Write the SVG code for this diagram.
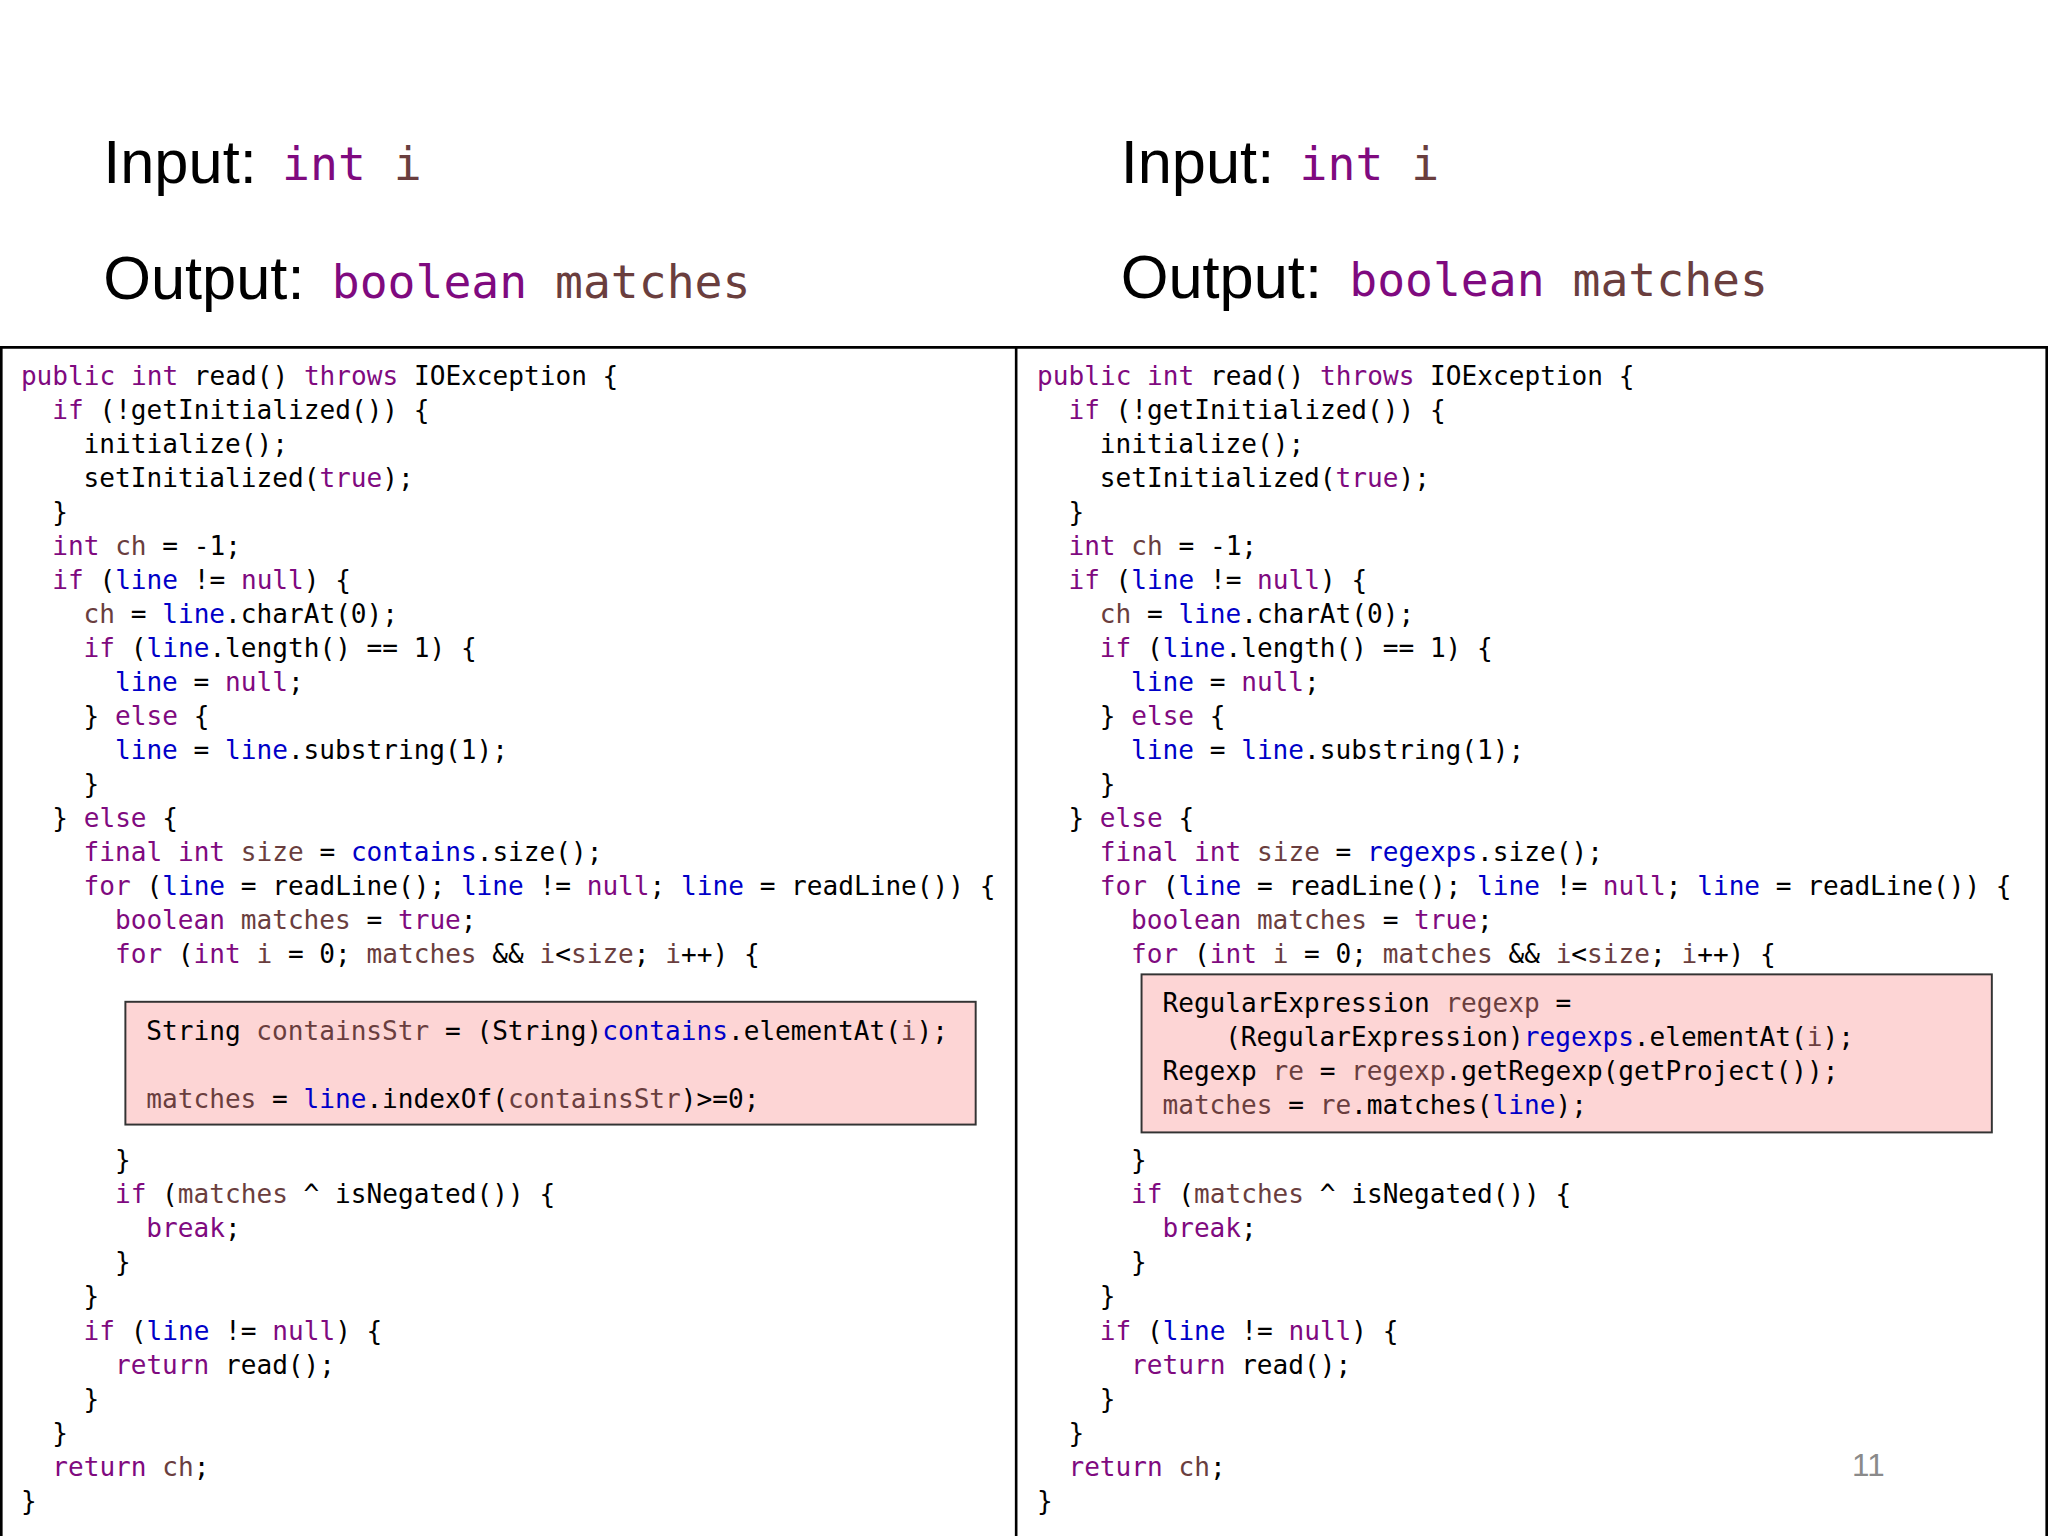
<svg xmlns="http://www.w3.org/2000/svg" width="2048" height="1536" viewBox="0 0 2048 1536" xml:space="preserve">
<style>
.t{font-family:"Liberation Sans",Arial,sans-serif;font-size:47px;fill:#000}
.tm{font-family:"DejaVu Sans Mono","Liberation Mono",monospace;font-size:35.5px}
.c{font-family:"DejaVu Sans Mono","Liberation Mono",monospace;font-size:20px;fill:#000}
.k{fill:#7f0a7f}.v{fill:#6a3e3e}.f{fill:#0000c8}
.box{fill:#fdd5d5;stroke:#333;stroke-width:1.5}
.frame{fill:none;stroke:#000;stroke-width:2}
</style>
<rect width="2048" height="1536" fill="#fff"/>
<g transform="scale(1.306122)">
<g id="titles">
<text class="t" x="79" y="140">Input:</text><text class="tm" x="216" y="138"><tspan class="k">int</tspan><tspan class="v"> i</tspan></text>
<text class="t" x="79" y="229">Output:</text><text class="tm" x="254" y="228"><tspan class="k">boolean</tspan><tspan class="v"> matches</tspan></text>
<text class="t" x="858" y="140">Input:</text><text class="tm" x="995" y="138"><tspan class="k">int</tspan><tspan class="v"> i</tspan></text>
<text class="t" x="858" y="228">Output:</text><text class="tm" x="1033" y="227"><tspan class="k">boolean</tspan><tspan class="v"> matches</tspan></text>
</g>
<g id="frames">
<line class="frame" x1="0" y1="266" x2="1568" y2="266"/>
<line class="frame" x1="1" y1="266" x2="1" y2="1176"/>
<line class="frame" x1="778" y1="266" x2="778" y2="1176"/>
<line class="frame" x1="1567" y1="266" x2="1567" y2="1176"/>
</g>
<g id="left-code">
<rect class="box" x="96" y="767" width="651" height="94"/>
<text class="c" x="16" y="295"><tspan class="k">public</tspan> <tspan class="k">int</tspan> read() <tspan class="k">throws</tspan> IOException {</text>
<text class="c" x="40" y="321"><tspan class="k">if</tspan> (!getInitialized()) {</text>
<text class="c" x="64" y="347">initialize();</text>
<text class="c" x="64" y="373">setInitialized(<tspan class="k">true</tspan>);</text>
<text class="c" x="40" y="399">}</text>
<text class="c" x="40" y="425"><tspan class="k">int</tspan> <tspan class="v">ch</tspan> = -1;</text>
<text class="c" x="40" y="451"><tspan class="k">if</tspan> (<tspan class="f">line</tspan> != <tspan class="k">null</tspan>) {</text>
<text class="c" x="64" y="477"><tspan class="v">ch</tspan> = <tspan class="f">line</tspan>.charAt(0);</text>
<text class="c" x="64" y="503"><tspan class="k">if</tspan> (<tspan class="f">line</tspan>.length() == 1) {</text>
<text class="c" x="88" y="529"><tspan class="f">line</tspan> = <tspan class="k">null</tspan>;</text>
<text class="c" x="64" y="555">} <tspan class="k">else</tspan> {</text>
<text class="c" x="88" y="581"><tspan class="f">line</tspan> = <tspan class="f">line</tspan>.substring(1);</text>
<text class="c" x="64" y="607">}</text>
<text class="c" x="40" y="633">} <tspan class="k">else</tspan> {</text>
<text class="c" x="64" y="659"><tspan class="k">final</tspan> <tspan class="k">int</tspan> <tspan class="v">size</tspan> = <tspan class="f">contains</tspan>.size();</text>
<text class="c" x="64" y="685"><tspan class="k">for</tspan> (<tspan class="f">line</tspan> = readLine(); <tspan class="f">line</tspan> != <tspan class="k">null</tspan>; <tspan class="f">line</tspan> = readLine()) {</text>
<text class="c" x="88" y="711"><tspan class="k">boolean</tspan> <tspan class="v">matches</tspan> = <tspan class="k">true</tspan>;</text>
<text class="c" x="88" y="737"><tspan class="k">for</tspan> (<tspan class="k">int</tspan> <tspan class="v">i</tspan> = 0; <tspan class="v">matches</tspan> &amp;&amp; <tspan class="v">i</tspan>&lt;<tspan class="v">size</tspan>; <tspan class="v">i</tspan>++) {</text>
<text class="c" x="112" y="796">String <tspan class="v">containsStr</tspan> = (String)<tspan class="f">contains</tspan>.elementAt(<tspan class="v">i</tspan>);</text>
<text class="c" x="112" y="848"><tspan class="v">matches</tspan> = <tspan class="f">line</tspan>.indexOf(<tspan class="v">containsStr</tspan>)&gt;=0;</text>
<text class="c" x="88" y="895">}</text>
<text class="c" x="88" y="921"><tspan class="k">if</tspan> (<tspan class="v">matches</tspan> ^ isNegated()) {</text>
<text class="c" x="112" y="947"><tspan class="k">break</tspan>;</text>
<text class="c" x="88" y="973">}</text>
<text class="c" x="64" y="999">}</text>
<text class="c" x="64" y="1026"><tspan class="k">if</tspan> (<tspan class="f">line</tspan> != <tspan class="k">null</tspan>) {</text>
<text class="c" x="88" y="1052"><tspan class="k">return</tspan> read();</text>
<text class="c" x="64" y="1078">}</text>
<text class="c" x="40" y="1104">}</text>
<text class="c" x="40" y="1130"><tspan class="k">return</tspan> <tspan class="v">ch</tspan>;</text>
<text class="c" x="16" y="1156">}</text>
</g>
<g id="right-code">
<rect class="box" x="874" y="746" width="651" height="121"/>
<text class="c" x="794" y="295"><tspan class="k">public</tspan> <tspan class="k">int</tspan> read() <tspan class="k">throws</tspan> IOException {</text>
<text class="c" x="818" y="321"><tspan class="k">if</tspan> (!getInitialized()) {</text>
<text class="c" x="842" y="347">initialize();</text>
<text class="c" x="842" y="373">setInitialized(<tspan class="k">true</tspan>);</text>
<text class="c" x="818" y="399">}</text>
<text class="c" x="818" y="425"><tspan class="k">int</tspan> <tspan class="v">ch</tspan> = -1;</text>
<text class="c" x="818" y="451"><tspan class="k">if</tspan> (<tspan class="f">line</tspan> != <tspan class="k">null</tspan>) {</text>
<text class="c" x="842" y="477"><tspan class="v">ch</tspan> = <tspan class="f">line</tspan>.charAt(0);</text>
<text class="c" x="842" y="503"><tspan class="k">if</tspan> (<tspan class="f">line</tspan>.length() == 1) {</text>
<text class="c" x="866" y="529"><tspan class="f">line</tspan> = <tspan class="k">null</tspan>;</text>
<text class="c" x="842" y="555">} <tspan class="k">else</tspan> {</text>
<text class="c" x="866" y="581"><tspan class="f">line</tspan> = <tspan class="f">line</tspan>.substring(1);</text>
<text class="c" x="842" y="607">}</text>
<text class="c" x="818" y="633">} <tspan class="k">else</tspan> {</text>
<text class="c" x="842" y="659"><tspan class="k">final</tspan> <tspan class="k">int</tspan> <tspan class="v">size</tspan> = <tspan class="f">regexps</tspan>.size();</text>
<text class="c" x="842" y="685"><tspan class="k">for</tspan> (<tspan class="f">line</tspan> = readLine(); <tspan class="f">line</tspan> != <tspan class="k">null</tspan>; <tspan class="f">line</tspan> = readLine()) {</text>
<text class="c" x="866" y="711"><tspan class="k">boolean</tspan> <tspan class="v">matches</tspan> = <tspan class="k">true</tspan>;</text>
<text class="c" x="866" y="737"><tspan class="k">for</tspan> (<tspan class="k">int</tspan> <tspan class="v">i</tspan> = 0; <tspan class="v">matches</tspan> &amp;&amp; <tspan class="v">i</tspan>&lt;<tspan class="v">size</tspan>; <tspan class="v">i</tspan>++) {</text>
<text class="c" x="890" y="775">RegularExpression <tspan class="v">regexp</tspan> =</text>
<text class="c" x="938" y="801">(RegularExpression)<tspan class="f">regexps</tspan>.elementAt(<tspan class="v">i</tspan>);</text>
<text class="c" x="890" y="827">Regexp <tspan class="v">re</tspan> = <tspan class="v">regexp</tspan>.getRegexp(getProject());</text>
<text class="c" x="890" y="853"><tspan class="v">matches</tspan> = <tspan class="v">re</tspan>.matches(<tspan class="f">line</tspan>);</text>
<text class="c" x="866" y="895">}</text>
<text class="c" x="866" y="921"><tspan class="k">if</tspan> (<tspan class="v">matches</tspan> ^ isNegated()) {</text>
<text class="c" x="890" y="947"><tspan class="k">break</tspan>;</text>
<text class="c" x="866" y="973">}</text>
<text class="c" x="842" y="999">}</text>
<text class="c" x="842" y="1026"><tspan class="k">if</tspan> (<tspan class="f">line</tspan> != <tspan class="k">null</tspan>) {</text>
<text class="c" x="866" y="1052"><tspan class="k">return</tspan> read();</text>
<text class="c" x="842" y="1078">}</text>
<text class="c" x="818" y="1104">}</text>
<text class="c" x="818" y="1130"><tspan class="k">return</tspan> <tspan class="v">ch</tspan>;</text>
<text class="c" x="794" y="1156">}</text>
</g>
<text x="1418" y="1130" font-family="Liberation Sans,Arial,sans-serif" font-size="24" fill="#8a8a8a">11</text>
</g>
</svg>
